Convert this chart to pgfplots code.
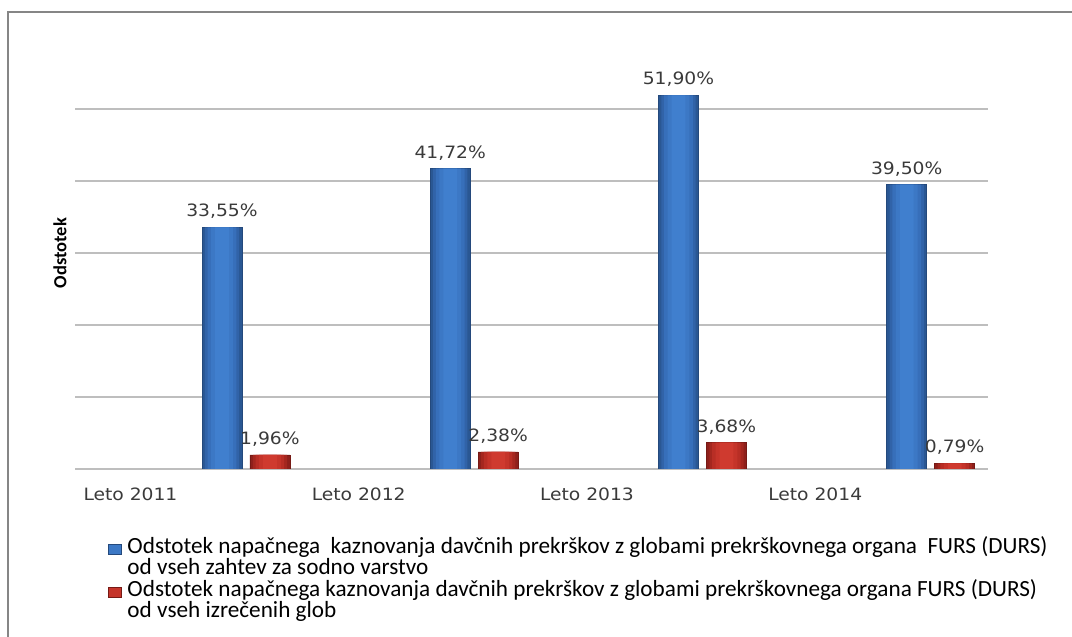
\documentclass[border=0pt]{standalone}
\usepackage{fontspec}
\setmainfont{Carlito}
\newfontfamily\dejavu[FakeStretch=1.1]{DejaVu Sans}
\usepackage{pgfplots}
\usepackage{pgfplotstable}
\pgfplotsset{compat=1.18}
\definecolor{blue1}{HTML}{2A5793}
\definecolor{blue2}{HTML}{3163A8}
\definecolor{blue3}{HTML}{376FBA}
\definecolor{blue4}{HTML}{3C78C5}
\definecolor{blue5}{HTML}{407FCE}
\definecolor{blueD}{HTML}{24497C}
\definecolor{red1}{HTML}{8E201B}
\definecolor{red2}{HTML}{A4271F}
\definecolor{red3}{HTML}{B82E25}
\definecolor{red4}{HTML}{C5342A}
\definecolor{red5}{HTML}{CF3A2F}
\definecolor{redD}{HTML}{761A15}
\definecolor{labgray}{HTML}{3A3A3A}
\definecolor{gridc}{HTML}{BEBEBE}
\pgfplotstableread{
x y
0.644 33.55
1.644 41.72
2.644 51.90
3.644 39.50
}\bluedata
\pgfplotstableread{
x y
0.854 1.96
1.854 2.38
2.854 3.68
3.854 0.79
}\reddata
\begin{document}
\begin{tikzpicture}
\path[use as bounding box] (0,0) rectangle (1072bp,637bp);
\draw[color=gray!95, line width=2bp] (7.5bp,-2bp) -- (7.5bp,625bp) -- (1074bp,625bp);
\begin{axis}[
  at={(75bp,168bp)}, anchor=south west,
  scale only axis, width=913bp, height=432bp,
  xmin=0, xmax=4, ymin=0, ymax=60,
  axis line style={draw=none},
  major tick length=0pt,
  ytick={0,10,20,30,40,50}, yticklabels={},
  ymajorgrids, grid style={color=gridc, line width=1.3bp},
  xtick={0.243,1.243,2.243,3.243},
  xticklabels={Leto 2011,Leto 2012,Leto 2013,Leto 2014},
  xticklabel style={font=\dejavu\fontsize{17bp}{20bp}\selectfont, text=labgray, yshift=-15bp},
  ylabel={\bfseries Odstotek},
  ylabel style={at={(axis description cs:-0.0164,0.5)}, anchor=center, font=\fontsize{18.5bp}{22bp}\selectfont},
  every node near coord/.append style={font=\dejavu\fontsize{17bp}{20bp}\selectfont, text=labgray, yshift=5bp},
  legend style={at={(axis description cs:0.0329,-0.1551)}, anchor=north west, draw=none, fill=none,
    font=\fontsize{23.2bp}{23bp}\selectfont, row sep=0pt,
    nodes={inner sep=0pt, text height=15bp, text depth=6.5bp}},
  legend cell align=left,
  bar shift=0pt,
]
% blue series, layered for the bevelled look
\addplot[forget plot, ybar, bar shift=0pt, bar width=0.175, fill=blue1, draw=blueD, line width=0.6bp] table[x=x,y=y] {\bluedata};
\addplot[forget plot, ybar, bar shift=0pt, bar width=0.150, fill=blue2, draw=none] table[x=x,y=y] {\bluedata};
\addplot[forget plot, ybar, bar shift=0pt, bar width=0.125, fill=blue3, draw=none] table[x=x,y=y] {\bluedata};
\addplot[forget plot, ybar, bar shift=0pt, bar width=0.095, fill=blue4, draw=none] table[x=x,y=y] {\bluedata};
\addplot[forget plot, ybar, bar shift=0pt, bar width=0.060, fill=blue5, draw=none,
  nodes near coords={\pgfmathprintnumber[use comma, fixed, fixed zerofill, precision=2, assume math mode=true]{\pgfplotspointmeta}\%}] table[x=x,y=y] {\bluedata};
% red series
\addplot[forget plot, ybar, bar shift=0pt, bar width=0.175, fill=red1, draw=redD, line width=0.6bp] table[x=x,y=y] {\reddata};
\addplot[forget plot, ybar, bar shift=0pt, bar width=0.150, fill=red2, draw=none] table[x=x,y=y] {\reddata};
\addplot[forget plot, ybar, bar shift=0pt, bar width=0.125, fill=red3, draw=none] table[x=x,y=y] {\reddata};
\addplot[forget plot, ybar, bar shift=0pt, bar width=0.095, fill=red4, draw=none] table[x=x,y=y] {\reddata};
\addplot[forget plot, ybar, bar shift=0pt, bar width=0.060, fill=red5, draw=none,
  nodes near coords={\pgfmathprintnumber[use comma, fixed, fixed zerofill, precision=2, assume math mode=true]{\pgfplotspointmeta}\%}] table[x=x,y=y] {\reddata};
% legend
\addlegendimage{legend image code/.code={\fill[blue4, draw=blueD, line width=0.5bp] (0bp,-5bp) rectangle (13bp,5bp); \path[draw=none] (0bp,0bp) rectangle (19bp,1bp);}}
\addlegendentry{Odstotek napačnega\ \ kaznovanja davčnih prekrškov z globami prekrškovnega organa\ \ FURS (DURS)}
\addlegendimage{legend image code/.code={\path[draw=none] (0bp,0bp) rectangle (19bp,1bp);}}
\addlegendentry{od vseh zahtev za sodno varstvo}
\addlegendimage{legend image code/.code={\fill[red4, draw=redD, line width=0.5bp] (0bp,-5bp) rectangle (13bp,5bp); \path[draw=none] (0bp,0bp) rectangle (19bp,1bp);}}
\addlegendentry{Odstotek napačnega kaznovanja davčnih prekrškov z globami prekrškovnega organa FURS (DURS)}
\addlegendimage{legend image code/.code={\path[draw=none] (0bp,0bp) rectangle (19bp,1bp);}}
\addlegendentry{od vseh izrečenih glob}
\end{axis}
\end{tikzpicture}
\end{document}
